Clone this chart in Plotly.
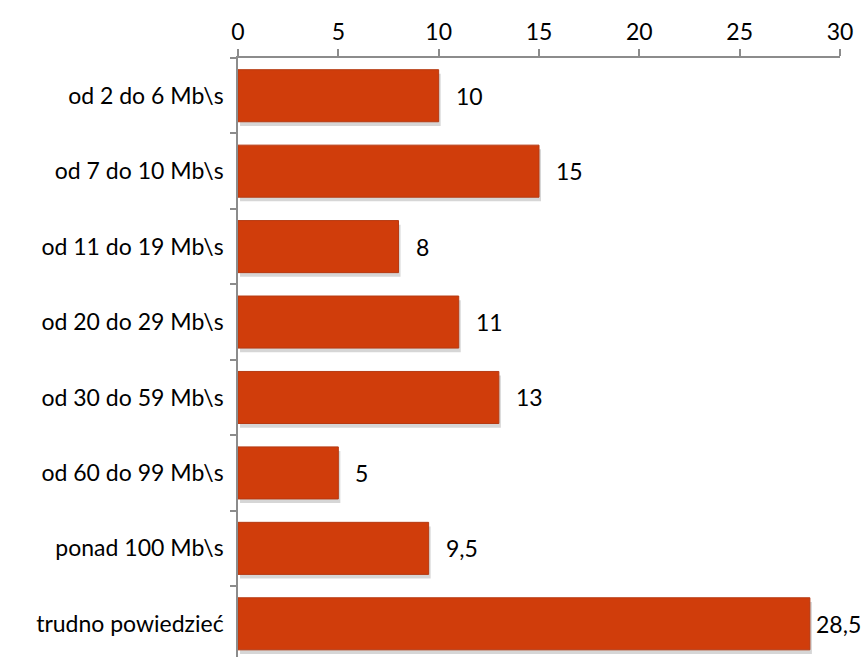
import plotly.graph_objects as go

categories = ["od 2 do 6 Mb\\s", "od 7 do 10 Mb\\s", "od 11 do 19 Mb\\s", "od 20 do 29 Mb\\s",
              "od 30 do 59 Mb\\s", "od 60 do 99 Mb\\s", "ponad 100 Mb\\s", "trudno powiedzieć"]
values = [10, 15, 8, 11, 13, 5, 9.5, 28.5]
labels = ["10", "15", "8", "11", "13", "5", "9,5", "28,5"]
x_ticks = [0, 5, 10, 15, 20, 25, 30]

FONT = "Lato"
fig = go.Figure()

# soft shadow
fig.add_trace(go.Bar(
    y=categories, x=values, orientation="h",
    marker=dict(color="rgba(0,0,0,0.16)", line=dict(width=0)),
    width=0.69, offset=-0.29, base=0.1,
    hoverinfo="skip", showlegend=False,
))
fig.add_trace(go.Bar(
    y=categories, x=values, orientation="h",
    marker=dict(color="#D03D0B", line=dict(color="#B63A12", width=1)),
    width=0.69, offset=-0.345,
    showlegend=False,
))

for i, (c, v, t) in enumerate(zip(categories, values, labels)):
    fig.add_annotation(x=v, y=c, text=t, showarrow=False, xanchor="left",
                       xshift=4 if i == len(values) - 1 else 15,
                       font=dict(family=FONT, size=23, color="black"))

fig.update_layout(
    width=864, height=657,
    margin=dict(l=238, r=24, t=58, b=0),
    paper_bgcolor="white", plot_bgcolor="white",
    barmode="overlay",
    font=dict(family=FONT, size=23, color="black"),
    xaxis=dict(side="top", range=[0, 30], tickvals=x_ticks, showgrid=False, zeroline=False,
               showline=True, linecolor="#8C8C8C", linewidth=1.5,
               ticks="outside", ticklen=7, tickcolor="#8C8C8C", tickwidth=1.5,
               tickfont=dict(family=FONT, size=23)),
    yaxis=dict(range=[7.44, -0.5], showgrid=False, zeroline=False,
               showline=True, linecolor="#8C8C8C", linewidth=1.5,
               ticks="outside", ticklen=6, tickcolor="#8C8C8C", tickwidth=1.5,
               tickson="boundaries", ticklabelstandoff=8,
               tickfont=dict(family=FONT, size=23)),
)

fig.write_html("out.html")
